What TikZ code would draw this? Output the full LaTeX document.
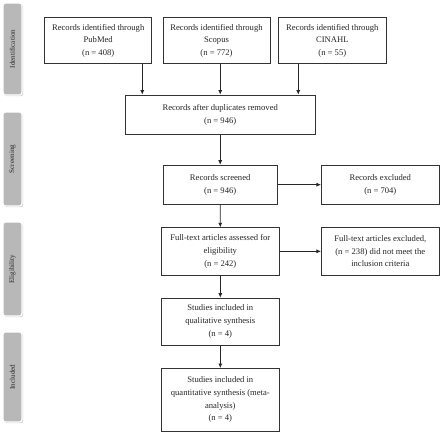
\documentclass[tikz,border=0pt]{standalone}
\usepackage{fontspec}
\setmainfont{Liberation Serif}
\usetikzlibrary{arrows.meta,shadows}
\begin{document}
\begin{tikzpicture}[x=1pt,y=-1pt,
  box/.style={draw=black!80,line width=0.7pt,fill=white,align=center,inner sep=2pt,
    font=\fontsize{8.6}{12.6}\selectfont,text=black!85},
  tab/.style={draw=white,line width=1.2pt,fill=black!28,rounded corners=2.5pt,
    drop shadow={opacity=0.35,shadow xshift=1.2pt,shadow yshift=-1.2pt}},
  tablabel/.style={rotate=90,font=\fontsize{7.1}{8}\selectfont,text=black!85},
  arr/.style={line width=0.7pt,draw=black!85,-{Latex[length=4.5pt,width=4pt]}}]
\useasboundingbox (0,0) rectangle (440,432);
% side tabs
\draw[tab] (3,3) rectangle (22,95);
\node[tablabel] (tid) at (12.5,49) {Identification};
\draw[tab] (3,112) rectangle (22,206);
\node[tablabel] (tsc) at (12.5,159) {Screening};
\draw[tab] (3,222) rectangle (22,316);
\node[tablabel] (tel) at (12.5,269) {Eligibility};
\draw[tab] (3,332) rectangle (22,422);
\node[tablabel] (tin) at (12.5,377) {Included};
% boxes
\node[box,minimum width=107pt,minimum height=46.4pt] (pub) at (98.2,40.5)
  {Records identified through\\PubMed\\(n = 408)};
\node[box,minimum width=107pt,minimum height=46.4pt] (sco) at (216.5,40.5)
  {Records identified through\\Scopus\\(n = 772)};
\node[box,minimum width=107.3pt,minimum height=46.4pt] (cin) at (332.3,40.5)
  {Records identified through\\CINAHL\\(n = 55)};
\node[box,minimum width=189.7pt,minimum height=39.7pt] (dup) at (220.2,114.8)
  {Records after duplicates removed\\(n = 946)};
\node[box,minimum width=114.3pt,minimum height=39.3pt] (scr) at (220.2,184.7)
  {Records screened\\(n = 946)};
\node[box,minimum width=118pt,minimum height=39.3pt] (exc) at (380.3,184.7)
  {Records excluded\\(n = 704)};
\node[box,minimum width=118pt,minimum height=47.3pt] (ft) at (220.3,251.3)
  {Full-text articles assessed for\\eligibility\\(n = 242)};
\node[box,minimum width=118pt,minimum height=47.3pt] (ftx) at (380.3,251.3)
  {Full-text articles excluded,\\(n = 238) did not meet the\\inclusion criteria};
\node[box,minimum width=118pt,minimum height=47pt] (qual) at (220.3,321.5)
  {Studies included in\\qualitative synthesis\\(n = 4)};
\node[box,minimum width=118pt,minimum height=62.7pt] (quan) at (220.3,399.7)
  {Studies included in\\quantitative synthesis (meta-\\analysis)\\(n = 4)};
% arrows
\draw[arr] ([xshift=44.1pt]pub.south) -- ([xshift=44.1pt]pub.south |- dup.north);
\draw[arr] (sco.south -| dup.north) -- (dup.north);
\draw[arr] ([xshift=-34pt]cin.south) -- ([xshift=-34pt]cin.south |- dup.north);
\draw[arr] (dup.south) -- (scr.north);
\draw[arr] (scr.east) -- (exc.west);
\draw[arr] (scr.south) -- (ft.north);
\draw[arr] (ft.east) -- (ftx.west);
\draw[arr] (ft.south) -- (qual.north);
\draw[arr] (qual.south) -- (quan.north);
\end{tikzpicture}
\end{document}
